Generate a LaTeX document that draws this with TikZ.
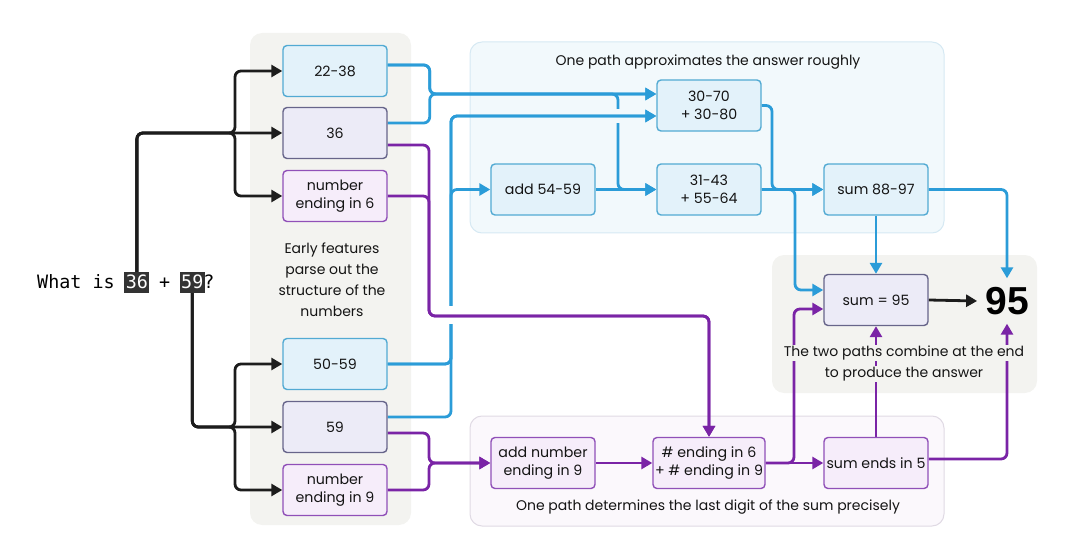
\documentclass[tikz,border=0pt]{standalone}
\usepackage{fontspec}
\setmainfont{Poppins}
\newfontfamily\monof{DejaVu Sans Mono}
\newfontfamily\bigf{Liberation Sans}
\usetikzlibrary{arrows.meta,calc}
\definecolor{lineblue}{HTML}{2B9CD8}
\definecolor{boxblue}{HTML}{52AAD3}
\definecolor{boxbluefill}{HTML}{E3F2FA}
\definecolor{linepurple}{HTML}{7A24A6}
\definecolor{boxpurple}{HTML}{9050B8}
\definecolor{boxpurplefill}{HTML}{F6EDFA}
\definecolor{lavstroke}{HTML}{67658A}
\definecolor{lavfill}{HTML}{ECEBF7}
\definecolor{panelgray}{HTML}{F3F3F0}
\definecolor{panelbluefill}{HTML}{F2F9FC}
\definecolor{panelbluestroke}{HTML}{D6E9F3}
\definecolor{panelpurplefill}{HTML}{FBF8FC}
\definecolor{panelpurplestroke}{HTML}{E0DAE4}
\definecolor{inkblack}{HTML}{1C1C1C}
\definecolor{hlbg}{HTML}{333333}
\pgfdeclarelayer{panels}
\pgfdeclarelayer{lines}
\pgfsetlayers{panels,lines,main}
\begin{document}
\begin{tikzpicture}[x=1pt,y=-1pt,
  nbox/.style={rectangle, rounded corners=4pt, minimum width=104pt, minimum height=51pt,
    align=center, font=\fontsize{14.2}{18}\selectfont, line width=1.4pt, inner sep=2pt, text=black!92},
  bbox/.style={nbox, draw=boxblue, fill=boxbluefill},
  pbox/.style={nbox, draw=boxpurple, fill=boxpurplefill},
  lbox/.style={nbox, draw=lavstroke, fill=lavfill},
  conn/.style={line width=2.8pt, rounded corners=6pt},
  bl/.style={conn, draw=lineblue},
  pl/.style={conn, draw=linepurple},
  bk/.style={conn, draw=inkblack},
  arr/.style={-{Triangle[length=11pt,width=12pt]}},
  qfont/.style={font=\monof\fontsize{18.4}{22}\selectfont},
  hl/.style={qfont, fill=hlbg, text=white, anchor=base west, inner xsep=1.5pt, inner ysep=1pt, text height=15pt, text depth=4pt},
  qt/.style={qfont, anchor=base west, inner sep=0pt},
  captxt/.style={font=\fontsize{14}{21}\selectfont, align=center, text=black!92}
]
\useasboundingbox (0,0) rectangle (1080,559);

% panels
\begin{pgfonlayer}{panels}
\fill[panelgray, rounded corners=12pt] (250,33) rectangle (411,525);
\draw[fill=panelbluefill, draw=panelbluestroke, line width=1pt, rounded corners=12pt] (470,42) rectangle (944,233);
\draw[fill=panelpurplefill, draw=panelpurplestroke, line width=1pt, rounded corners=12pt] (470,416) rectangle (944,526);
\fill[panelgray, rounded corners=12pt] (772,255) rectangle (1037,393);
\end{pgfonlayer}

% question
\node[qt] (qa) at (37,288) {What is};
\node[hl] (h36) at (124.1,288) {36};
\node[qt] (qplus) at (158.9,288) {+};
\node[hl] (h59) at (179.5,288) {59};
\node[qt] (qq) at (203.2,288) {?};

% boxes
\node[bbox] (b2238) at (335,71) {22-38};
\node[lbox] (b36) at (335,133) {36};
\node[pbox] (b6) at (335,196) {number\\ending in 6};
\node[bbox] (b5059) at (335,364) {50-59};
\node[lbox] (b59) at (335,427) {59};
\node[pbox] (b9) at (335,490) {number\\ending in 9};
\node[bbox] (a3070) at (709,105.5) {30-70\\+ 30-80};
\node[bbox] (add5459) at (543,189.5) {add 54-59};
\node[bbox] (a3143) at (709,189.5) {31-43\\+ 55-64};
\node[bbox] (s8897) at (876,189.5) {sum 88-97};
\node[lbox] (s95) at (876,300) {sum = 95};
\node[pbox] (add9) at (543,463) {add number\\ending in 9};
\node[pbox] (e69) at (709,463) {\# ending in 6\\+ \# ending in 9};
\node[pbox] (se5) at (876,463) {sum ends in 5};
\node[font=\bigf\bfseries\fontsize{39}{40}\selectfont, minimum height=45pt, inner xsep=8pt, inner ysep=0pt] (n95) at (1007,301) {95};

% captions
\node[captxt] (capL) at (332,280) {Early features\\parse out the\\structure of the\\numbers};
\node[captxt] (capT) at (708,62) {One path approximates the answer roughly};
\node[captxt] (capB) at (708,507) {One path determines the last digit of the sum precisely};
\node[captxt, fill=panelgray, inner sep=1pt] (capR1) at (904,353) {The two paths combine at the end};
\node[captxt, fill=panelgray, inner sep=1pt] (capR2) at (904,374) {to produce the answer};

% junctions
\coordinate (jk1) at (235,133);
\coordinate (jk2) at (235,427);
\coordinate (jb1) at (618,94);
\coordinate (v2top) at (451,116);
\coordinate (jb2) at (451,189.5);
\coordinate (jb3) at (772,189.5);
\coordinate (jb4) at (795,189.5);
\coordinate (jp1) at (429,316);
\coordinate (jp2) at (429,463);
\coordinate (jp3) at (794,463);

\begin{pgfonlayer}{lines}
% blue
\draw[bl,arr] ([yshift=6pt]b2238.east) -- ++(42,0) |- ([yshift=11.5pt]a3070.west);
\draw[bl,arr] ([yshift=10pt]b36.east) -- ++(42,0) |- ([yshift=11.5pt]a3070.west);
\draw[bl,arr] ([yshift=6pt]b2238.east) -- ++(42,0) |- (jb1) |- (a3143.west);
\fill[panelbluefill] (613.5,109) rectangle (622.5,123);
\draw[bl,arr] (b5059.east) -| (v2top) -- ([yshift=-10.5pt]a3070.west);
\draw[bl,arr] ([yshift=10pt]b59.east) -| (v2top) -- ([yshift=-10.5pt]a3070.west);
\draw[bl,arr] (b5059.east) -| (jb2) -- (add5459.west);
\draw[bl,arr] (add5459.east) -- (a3143.west);
\draw[bl,arr] (a3143.east) -- (s8897.west);
\draw[bl,arr] (a3070.east) -| (jb3) -- (s8897.west);
\draw[bl,arr] (a3143.east) -- (jb4) |- ([yshift=10pt]s95.west);
\draw[bl,arr] (s8897.south) -- (s95.north);
\draw[bl,arr] (s8897.east) -| (n95.north);
% purple
\fill[white] (446.5,306) rectangle (455.5,324);
\draw[pl,arr] ([yshift=-12pt]b36.east) -| (jp1) -| (e69.north);
\draw[pl,arr] (b6.east) -| (jp1) -| (e69.north);
\draw[pl,arr] ([yshift=-6pt]b59.east) -| (jp2) -- (add9.west);
\draw[pl,arr] (b9.east) -| (jp2) -- (add9.west);
\draw[pl,arr] (add9.east) -- (e69.west);
\draw[pl,arr] (e69.east) -- (se5.west);
\draw[pl,arr] (e69.east) -- (jp3) |- ([yshift=-9pt]s95.west);
\draw[pl,arr] (se5.north) -- (s95.south);
\draw[pl,arr] ([yshift=4pt]se5.east) -| (n95.south);
% black
\draw[bk,arr] (h36.north) |- (jk1) -- (b36.west);
\draw[bk,arr] (h36.north) |- (jk1) |- (b2238.west);
\draw[bk,arr] (h36.north) |- (jk1) |- (b6.west);
\draw[bk,arr] (h59.south) |- (jk2) -- (b59.west);
\draw[bk,arr] (h59.south) |- (jk2) |- (b5059.west);
\draw[bk,arr] (h59.south) |- (jk2) |- (b9.west);
\draw[bk,arr] (s95.east) -- (n95.west);
\end{pgfonlayer}
\end{tikzpicture}
\end{document}
